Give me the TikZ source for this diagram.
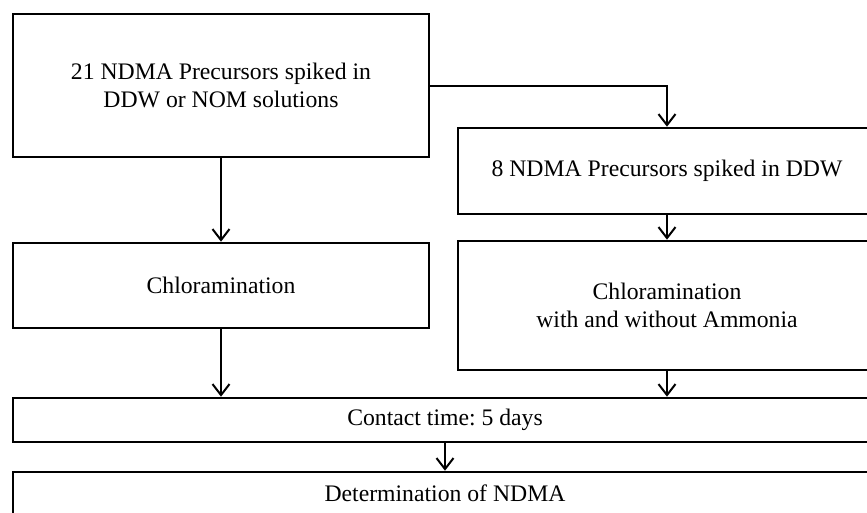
\documentclass[tikz,border=0pt]{standalone}
\usepackage{fontspec}
\setmainfont{Liberation Serif}
\usetikzlibrary{arrows.meta}
\begin{document}
\begin{tikzpicture}[x=1pt,y=-1pt,
  stepbox/.style={draw=black, line width=2.6pt, fill=white, inner sep=0pt, align=center,
    font=\fontsize{23.7}{28}\selectfont},
  arr/.style={line width=2pt, -{Straight Barb[length=11pt,width=17pt,line width=2pt]}}]
\useasboundingbox (0,0) rectangle (867,512);
\clip (0,0) rectangle (867,512);
\fill[white] (0,0) rectangle (867,512);
\node[stepbox, minimum width=416pt, minimum height=143pt] (top) at (221,85.5)
  {21 NDMA Precursors spiked in\\DDW or NOM solutions};
\node[stepbox, minimum width=418pt, minimum height=86pt] (r1) at (667,171)
  {8 NDMA Precursors spiked in DDW};
\node[stepbox, minimum width=416pt, minimum height=85pt] (lc) at (221,285.5)
  {Chloramination};
\node[stepbox, minimum width=418pt, minimum height=129pt] (rc) at (667,305.5)
  {Chloramination\\with and without Ammonia};
\node[stepbox, minimum width=864pt, minimum height=44pt] (ct) at (445,420)
  {Contact time:\ 5 days};
\node[stepbox, minimum width=864pt, minimum height=42pt] (det) at (445,493)
  {Determination of NDMA};
\draw[arr] (top.east) -| (r1.north);
\draw[arr] (top.south) -- (lc.north);
\draw[arr] (r1.south) -- (rc.north);
\draw[arr] (lc.south) -- (lc.south |- ct.north);
\draw[arr] (rc.south) -- (rc.south |- ct.north);
\draw[arr] (ct.south) -- (det.north);
\end{tikzpicture}
\end{document}
